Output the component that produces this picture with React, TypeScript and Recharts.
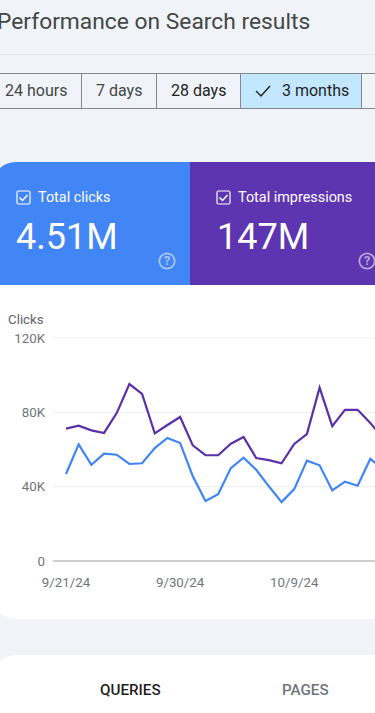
import React from "react";
import { CartesianGrid, Line, LineChart, XAxis, YAxis } from "recharts";

const dates = [
  "9/21/24", "9/22/24", "9/23/24", "9/24/24", "9/25/24", "9/26/24", "9/27/24",
  "9/28/24", "9/29/24", "9/30/24", "10/1/24", "10/2/24", "10/3/24", "10/4/24",
  "10/5/24", "10/6/24", "10/7/24", "10/8/24", "10/9/24", "10/10/24", "10/11/24",
  "10/12/24", "10/13/24", "10/14/24", "10/15/24", "10/16/24",
];
const clicks = [
  46800, 62800, 51800, 57800, 57200, 52200, 52600, 60800, 66200, 63500, 45600,
  32300, 35900, 50000, 55600, 49100, 40200, 31700, 38700, 54000, 51500, 38000,
  42700, 40500, 55000, 49500,
];
const impressions = [
  71200, 72800, 70300, 68900, 79600, 95200, 89900, 68700, 73200, 77500, 62200,
  57000, 56900, 63100, 66700, 55400, 54300, 52600, 63000, 68300, 93300, 72600,
  81300, 81400, 74300, 66000,
];
const yTicks = [0, 40000, 80000, 120000];
const xTicks = ["9/21/24", "9/30/24", "10/9/24"];
const ranges = ["24 hours", "7 days", "28 days", "3 months"];

const data = dates.map((date, i) => ({
  date,
  clicks: clicks[i],
  impressions: impressions[i],
}));

const font = "Roboto, sans-serif";
const bg = "#f0f4f9";

function Box({ style, children }: { style: React.CSSProperties; children?: React.ReactNode }) {
  return <div style={{ position: "absolute", whiteSpace: "nowrap", ...style }}>{children}</div>;
}

function CheckBox({ left }: { left: number }) {
  return (
    <svg style={{ position: "absolute", left, top: 190 }} width="15" height="15" viewBox="0 0 15 15">
      <rect x="1" y="1" width="13" height="13" rx="1.5" fill="none" stroke="#fff" strokeWidth="1.2" />
      <path d="M3.5 7.5l3 3 5-5.5" fill="none" stroke="#fff" strokeWidth="1.5" />
    </svg>
  );
}

function Help({ left }: { left: number }) {
  return (
    <svg style={{ position: "absolute", left, top: 252, opacity: 0.55 }} width="18" height="18" viewBox="0 0 18 18">
      <circle cx="9" cy="9" r="7.7" fill="none" stroke="#fff" strokeWidth="1.8" />
      <text x="9" y="13.4" textAnchor="middle" fontSize="12.5" fontWeight="700" fill="#fff" fontFamily={font}>?</text>
    </svg>
  );
}

const chipEdges = [-30, 81, 156, 240, 361, 420];

export default function App() {
  return (
    <div style={{ position: "absolute", left: 0, top: 0, width: 375, height: 713, overflow: "hidden", background: bg, fontFamily: font }}>
      <Box style={{ left: -3, top: 8, fontSize: 22.8, lineHeight: "28px", color: "#444746" }}>Performance on Search results</Box>
      <Box style={{ left: 0, top: 54, width: 375, height: 1, background: "#e3e6ea" }} />

      {ranges.map((r, i) => (
        <Box
          key={r}
          style={{
            left: chipEdges[i],
            top: 73,
            width: chipEdges[i + 1] - chipEdges[i],
            height: 36,
            boxSizing: "border-box",
            border: "1px solid #85898c",
            borderRightWidth: 0,
            background: i === 3 ? "#c2e7ff" : "transparent",
            color: i === 2 || i === 3 ? "#1f1f1f" : "#444746",
            fontSize: 16,
            lineHeight: "34px",
            paddingLeft: i === 0 ? 34 : i === 3 ? 41 : 14,
          }}
        >
          {r}
        </Box>
      ))}
      <Box style={{ left: 361, top: 73, width: 20, height: 36, boxSizing: "border-box", border: "1px solid #85898c", borderRightWidth: 0 }} />
      <svg style={{ position: "absolute", left: 254, top: 83 }} width="18" height="16" viewBox="0 0 18 16">
        <path d="M2 8l5 5 9-10" fill="none" stroke="#1f1f1f" strokeWidth="1.4" />
      </svg>

      <Box style={{ left: -8, top: 162, width: 198, height: 123, background: "#4285f4", borderTopLeftRadius: 24 }} />
      <Box style={{ left: 190, top: 162, width: 185, height: 123, background: "#5e35b1" }} />
      <CheckBox left={16} />
      <CheckBox left={216} />
      <Box style={{ left: 38, top: 189, fontSize: 14.4, lineHeight: "17px", color: "#fff" }}>Total clicks</Box>
      <Box style={{ left: 238, top: 189, fontSize: 14.4, lineHeight: "17px", color: "#fff" }}>Total impressions</Box>
      <Box style={{ left: 16, top: 216, fontSize: 36, lineHeight: "42px", color: "#fff" }}>4.51M</Box>
      <Box style={{ left: 217, top: 216, fontSize: 36, lineHeight: "42px", color: "#fff" }}>147M</Box>
      <Help left={158} />
      <Help left={358} />

      <Box style={{ left: -8, top: 285, width: 420, height: 334, background: "#fff", borderBottomLeftRadius: 24 }} />
      <Box style={{ left: 8, top: 312, fontSize: 13.3, lineHeight: "15px", color: "#5f6368" }}>Clicks</Box>
      <div style={{ position: "absolute", left: 0, top: 328 }}>
        <LineChart width={397} height={268} data={data} margin={{ top: 10, right: 0, bottom: 0, left: 0 }}>
          <CartesianGrid horizontal vertical={false} stroke="#eeeff1" />
          <XAxis
            dataKey="date"
            ticks={xTicks}
            interval={0}
            padding={{ left: 13, right: 14 }}
            tickLine={false}
            axisLine={{ stroke: "#a3a6a9" }}
            tick={{ fill: "#70757a", fontSize: 13.3, fontFamily: font }}
            tickMargin={11}
            height={35}
          />
          <YAxis
            width={53}
            domain={[0, 120000]}
            ticks={yTicks}
            tickFormatter={(v: number) => (v === 0 ? "0" : `${v / 1000}K`)}
            tickLine={false}
            axisLine={false}
            tick={{ fill: "#70757a", fontSize: 13.3, fontFamily: font }}
          />
          <Line dataKey="impressions" type="linear" stroke="#5a30a8" strokeWidth={2.2} dot={false} isAnimationActive={false} />
          <Line dataKey="clicks" type="linear" stroke="#3f85f5" strokeWidth={2.2} dot={false} isAnimationActive={false} />
        </LineChart>
      </div>

      <Box style={{ left: -8, top: 655, width: 420, height: 70, background: "#fff", borderTopLeftRadius: 24 }} />
      <Box style={{ left: 100, top: 681, fontSize: 15.2, fontWeight: 500, lineHeight: "18px", color: "#1f1f1f" }}>QUERIES</Box>
      <Box style={{ left: 282, top: 681, fontSize: 15.2, fontWeight: 500, lineHeight: "18px", color: "#70757a" }}>PAGES</Box>
    </div>
  );
}
